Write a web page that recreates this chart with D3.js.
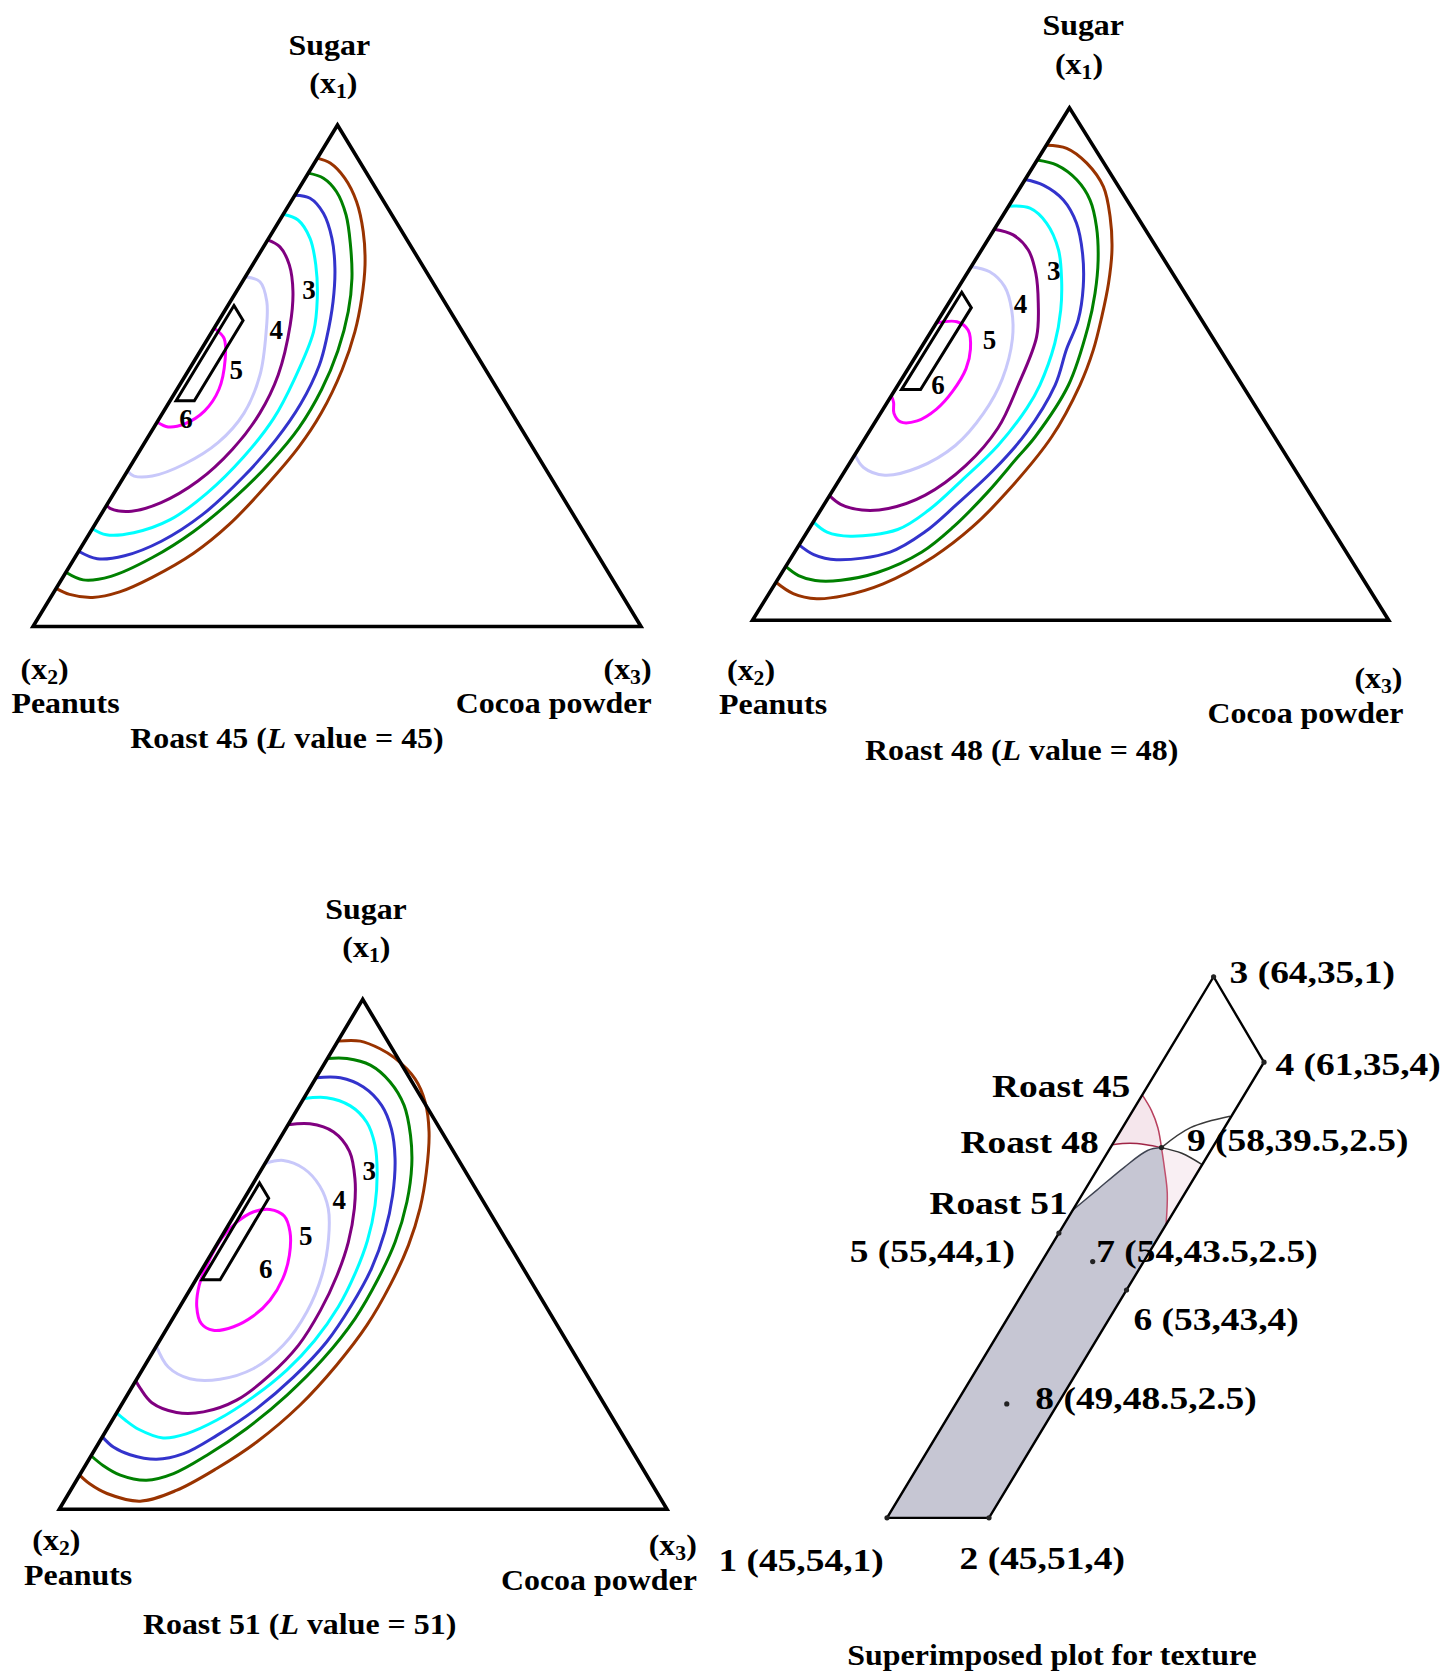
<!DOCTYPE html>
<html>
<head>
<meta charset="utf-8">
<script src="https://cdnjs.cloudflare.com/ajax/libs/d3/7.8.5/d3.min.js"></script>
<style>
  html, body { margin: 0; padding: 0; background: #ffffff; }
  svg text { font-family: "Liberation Serif", "Times New Roman", serif; font-weight: bold; fill: #000; }
</style>
</head>
<body>
<svg id="chart" width="1441" height="1674"></svg>
<script>
// ---------- data ----------
// Mixture components (percent). Contour points are [sugar, cocoa]; peanuts = 100 - sugar - cocoa.
const componentNames = ["Sugar", "Peanuts", "Cocoa powder"];
const componentSymbols = ["1", "2", "3"];
const roastLevels = [45, 48, 51];
const contourLabels = ["3", "4", "5", "6"];

// Texture contours, outermost to innermost
const roast45Contours = [
  [[93.4,0],[92.4,2.6],[89.4,6.5],[84.7,10.8],[78.7,14.9],[72.1,18.5],[65.4,21.3],[58.8,23.5],[51.2,25.2],[42.5,26.1],[35.8,25.8],[28.1,24.3],[20.4,22.1],[14.6,19.1],[9.8,14.7],[6.9,10.8],[5.8,6.9],[6.4,2.8],[7.6,0]],
  [[90.4,0],[89.4,3.0],[86.7,6.5],[82.05,10.4],[76.1,14.1],[69.4,17.7],[62.8,20.4],[55.0,22.6],[47.3,23.8],[39.6,23.9],[32.9,22.7],[25.7,20.3],[18.9,16.9],[13.7,12.7],[10.0,7.8],[9.3,3.6],[10.8,0]],
  [[86,0],[85.4,2.8],[82.4,6.5],[77.4,10.4],[71.4,13.9],[64.8,16.9],[57.5,19.5],[52.1,21.0],[44.4,21.8],[37.2,21.3],[30,19.7],[22.3,16.7],[17,12.6],[14.1,8.0],[13.5,3.8],[15,0]],
  [[82.2,0],[81.05,3.0],[77.4,6.8],[72.1,10.4],[65.4,14.0],[58.8,16.7],[49.2,18.3],[41.5,18.8],[33.8,17.7],[26.6,15.3],[21.3,11.9],[18.7,7.2],[18.3,2.9],[19.5,0]],
  [[77.1,0],[75.7,2.7],[72.1,6.05],[66.8,9.3],[60.1,12.2],[50.2,15.2],[42.5,16],[35.3,15.1],[29,12.6],[24.7,8.7],[23,4.7],[23.5,1.0],[24.2,0]],
  [[69.75,0],[68.75,2.9],[64.8,6.0],[58.8,8.9],[50.2,12.2],[42.5,13.4],[36.7,12.1],[32.4,8.7],[30,4.6],[30,1.6],[31,0]],
  [[59.5,0],[57.4,2.7],[53.1,5.0],[47.3,6.9],[43,6.7],[40.4,4.7],[39.8,2.3],[40.8,0]]
];
const roast48Contours = [
  [[92.7,0],[92.1,3.5],[89.2,8.1],[84.6,13.0],[78.7,17.0],[72.25,20.5],[65.75,23.2],[59.2,25.4],[52.7,27.3],[45.9,28.6],[35.8,29.2],[24.9,27.5],[18.2,25.5],[12.4,22.3],[7.1,17.0],[4.8,12.0],[4.2,8.0],[5.2,3.8],[7.4,0]],
  [[89.8,0],[88.8,3.6],[85.9,8.2],[82,12.2],[76.8,15.8],[70.3,19.3],[63.8,22.05],[57.3,24.2],[45.9,26.8],[35.8,26.6],[31.7,25.8],[24.9,24.5],[18.2,22.5],[13.3,20.0],[9.3,15.0],[7.8,10.0],[7.75,6.0],[8.7,2.9],[10.5,0]],
  [[86,0],[84.9,3.4],[82,8.0],[77.5,12.3],[71.6,16.2],[65.1,19.55],[58.6,22.0],[52.9,23],[45.9,24.7],[36.5,24.8],[29.3,23.3],[22.5,20.8],[17.2,18.5],[13.3,15.0],[11.8,7.3],[12.8,3.25],[14.7,0]],
  [[80.8,0],[80.4,3.55],[77.5,7.6],[72.25,12.1],[66.4,15.5],[60.5,18.3],[54,20.6],[45.9,22.3],[41.4,22.5],[34.1,21.6],[27.3,19.3],[21.5,17.0],[17.7,14.0],[16.4,7.2],[17.2,3.15],[19.2,0]],
  [[76.3,0],[75.2,3.5],[72.25,7.35],[67.7,10.8],[61.85,14.1],[55.3,17.1],[45.9,18.9],[37.5,19.9],[30.2,18.5],[24.4,15.0],[21.8,10.5],[21.5,6.5],[22.6,2.6],[24.3,0]],
  [[69,0],[68,3.4],[65.1,7.2],[60.5,10.6],[54.9,13.5],[47.1,15.8],[40.4,16.2],[34.1,14.9],[29.8,11.2],[28.3,6.7],[29.8,2.6],[32.3,0]],
  [[58,0],[58.25,3.1],[56.6,5.7],[52.9,7.9],[49.1,9.1],[44.7,9.2],[41.2,8.4],[38.9,6.5],[38.7,4.0],[40.4,2.1],[42.5,1.0],[43.8,0]]
];
const roast51Contours = [
  [[91.8,0],[91.8,3.7],[90.3,7.7],[88.5,11.0],[84.4,16.4],[79.9,20.3],[74.0,23.9],[66.1,27.4],[59.0,29.9],[51.8,31.6],[43.9,32.5],[36.1,32.6],[28.2,31.5],[20.4,29.4],[13.2,25.9],[8.0,21.9],[3.7,17.4],[1.6,12.5],[3.1,6.3],[5.0,2.5],[6.7,0]],
  [[88.4,0],[88.4,3.2],[87.1,7.7],[83.8,12.6],[79.2,17.2],[73.3,21.2],[67.5,24.3],[60.3,27.1],[52.4,29.1],[45.2,29.9],[37.4,30.0],[29.5,28.7],[22.4,26.3],[15.8,22.9],[10.6,19.0],[7.0,15.3],[5.7,11.5],[6.7,6.7],[8.6,2.9],[10.5,0]],
  [[84.6,0],[84.6,4.0],[82.8,8.7],[79.2,13.5],[74.6,17.4],[68.8,20.9],[61.6,24.1],[54.4,26.4],[47.2,27.8],[40.0,28.1],[32.8,27.6],[25.9,25.6],[19.7,22.6],[14.5,18.7],[10.9,15.0],[9.8,11.1],[10.7,6.3],[12.2,2.8],[14.2,0]],
  [[80.5,0],[80.7,3.7],[79.1,8.4],[75.9,12.7],[71.4,16.3],[66.1,19.3],[59.6,22.2],[52.7,24.4],[46.2,25.6],[39.7,26.1],[33.1,25.5],[27.3,23.8],[22.0,20.9],[17.5,17.2],[14.8,13.5],[14.0,10.1],[15.7,5.2],[17.5,2.1],[18.9,0]],
  [[75.4,0],[75.6,3.5],[74.0,8.2],[70.2,12.7],[64.8,16.3],[59.0,19.1],[52.4,21.4],[45.9,22.8],[39.0,23.5],[32.2,23.3],[26.3,21.5],[21.4,18.5],[19.1,14.2],[19.0,9.8],[20.9,4.8],[23.7,1.5],[25.2,0]],
  [[67.8,0],[68.4,2.7],[66.8,6.9],[63.4,11.2],[59.0,14.8],[53.1,17.8],[45.9,20.3],[38.7,21.4],[32.2,20.8],[27.6,18.2],[25.5,13.7],[25.6,8.7],[27.9,4.0],[32,0]],
  [[56.3,1.1],[58.3,2.8],[58.8,5.3],[57.5,8.3],[54.4,10.8],[49.8,13.0],[45.2,14.2],[41.0,14.2],[37.9,13.0],[35.8,10.8],[35.1,7.8],[36.4,5.2],[39.7,2.8],[43.9,1.1],[47.8,0.4],[53.1,0.2]]
];

// Where the level numbers sit on each plot, [sugar, cocoa]
const roast45LabelPoints = [[67.1,11.8],[59.3,10.3],[51.3,7.75],[41.5,4.4]];
const roast48LabelPoints = [[68.15,13.4],[61.85,11.3],[54.7,10.0],[45.9,6.3]];
const roast51LabelPoints = [[66.5,17.8],[60.8,15.7],[53.6,13.8],[47.2,10.4]];

// Design points (percent sugar, peanuts, cocoa)
const pointIds     = ["1","2","3","4","5","6","7","8","9"];
const pointSugar   = [45, 45, 64, 61, 55, 53, 54, 49, 58];
const pointPeanuts = [54, 51, 35, 35, 44, 43, 43.5, 48.5, 39.5];
const pointCocoa   = [1, 4, 1, 4, 1, 4, 2.5, 2.5, 2.5];
const regionOrder  = ["3","4","2","1"];

// Boundaries of the acceptable-texture region for each roast, [sugar, cocoa]
const roast45Boundary = [[59.85,1.0],[59.3,1.55],[58.7,2.04],[58,2.5],[57.3,2.94],[56.4,3.48],[55.3,4.0]];
const roast48Boundary = [[58.1,1.0],[58.15,1.5],[58.1,2.0],[58,2.5],[57.8,3.2],[57.4,4.0]];
const roast51Boundary = [[55.8,1.0],[56.5,1.35],[57.3,1.75],[57.9,2.14],[58,2.5],[58.7,3.0],[59.1,3.96]];

// ---------- styles & layout ----------
const contourColors = ["#993300", "#008000", "#3333cc", "#00ffff", "#800080", "#c8c8fa", "#ff00ff"];

const frames = {
  p45: { A: [337.5, 125],   B: [33, 626.5],    C: [641, 626.5] },
  p48: { A: [1069.5, 107.8], B: [752.5, 620.2], C: [1388.7, 620.2] },
  p51: { A: [362.7, 999.3], B: [59.3, 1509.3], C: [667, 1509.3] },
  overlay: { A: [1798.4, -48.5], B: [79.5, 2799.4], C: [3479.5, 2799.4] }
};

const textLayout = {
  p45: { sugar: [329.3, 55], x1: [333.4, 92.7], x2: [20.6, 678.6], peanuts: [11.4, 712.5],
         x3: [651.6, 678.6], cocoa: [651.6, 712.5], caption: [287, 747.8] },
  p48: { sugar: [1083.2, 35], x1: [1079, 74.2], x2: [727, 679.6], peanuts: [719, 713.8],
         x3: [1402.5, 688], cocoa: [1403.4, 722.7], caption: [1021.7, 760] },
  p51: { sugar: [366, 919.4], x1: [366.4, 956.8], x2: [32.3, 1549.9], peanuts: [24.1, 1585.3],
         x3: [696.8, 1555], cocoa: [696.8, 1590.3], caption: [299.6, 1634.3] }
};

const FS = 29.3, SX = 1.09;       // panel text size and horizontal stretch
const OFS = 32, OSX = 1.17;       // text on the superimposed plot
const LEVEL_FS = 27;              // contour level numbers

const svg = d3.select("#chart");

// Barycentric projection built from linear scales
function ternaryProjection(f) {
  const ySugar = d3.scaleLinear().domain([0, 100]).range([f.B[1], f.A[1]]);
  const xSugar = d3.scaleLinear().domain([0, 100]).range([0, f.A[0] - f.B[0]]);
  const xCocoa = d3.scaleLinear().domain([0, 100]).range([0, f.C[0] - f.B[0]]);
  return (s, c) => [f.B[0] + xSugar(s) + xCocoa(c), ySugar(s)];
}

function addText(g, x, y, anchor, size, sx) {
  return g.append("text")
    .attr("transform", `translate(${x},${y}) scale(${sx},1)`)
    .attr("text-anchor", anchor)
    .style("font-size", size + "px");
}

function symbolLabel(g, pos, idx, anchor) {
  const t = addText(g, pos[0], pos[1], anchor, FS, SX);
  t.append("tspan").text("(x");
  t.append("tspan").text(componentSymbols[idx]).style("font-size", (FS * 0.68) + "px").attr("dy", 5);
  t.append("tspan").text(")").attr("dy", -5);
}

function drawPanel(key, contours, labelPts, level) {
  const proj = ternaryProjection(frames[key]);
  const lay = textLayout[key];
  const g = svg.append("g").attr("class", "panel-" + key);
  const line = d3.line().x(d => proj(d[0], d[1])[0]).y(d => proj(d[0], d[1])[1]);

  contours.forEach((pts, i) => {
    const closed = pts[0][1] > 0 && pts[pts.length - 1][1] > 0;
    line.curve(closed ? d3.curveCatmullRomClosed.alpha(0.5) : d3.curveCatmullRom.alpha(0.5));
    g.append("path")
      .attr("d", line(pts))
      .attr("fill", "none")
      .attr("stroke", contourColors[i])
      .attr("stroke-width", 3)
      .attr("stroke-linejoin", "round");
  });

  // simplex outline
  line.curve(d3.curveLinearClosed);
  g.append("path")
    .attr("d", line([[100, 0], [0, 0], [0, 100]]))
    .attr("fill", "none").attr("stroke", "#000").attr("stroke-width", 3.6).attr("stroke-linejoin", "miter");

  // constrained region
  const region = regionOrder.map(id => {
    const k = pointIds.indexOf(id);
    return [pointSugar[k], pointCocoa[k]];
  });
  g.append("path")
    .attr("d", line(region))
    .attr("fill", "none").attr("stroke", "#000").attr("stroke-width", 3).attr("stroke-linejoin", "miter");

  // contour level numbers
  labelPts.forEach((p, i) => {
    const xy = proj(p[0], p[1]);
    g.append("text")
      .attr("x", xy[0]).attr("y", xy[1])
      .attr("dy", "0.35em")
      .attr("text-anchor", "middle")
      .style("font-size", LEVEL_FS + "px")
      .text(contourLabels[i]);
  });

  // vertex names
  addText(g, lay.sugar[0], lay.sugar[1], "middle", FS, SX).text(componentNames[0]);
  symbolLabel(g, lay.x1, 0, "middle");
  symbolLabel(g, lay.x2, 1, "start");
  addText(g, lay.peanuts[0], lay.peanuts[1], "start", FS, SX).text(componentNames[1]);
  symbolLabel(g, lay.x3, 2, "end");
  addText(g, lay.cocoa[0], lay.cocoa[1], "end", FS, SX).text(componentNames[2]);

  const cap = addText(g, lay.caption[0], lay.caption[1], "middle", FS, SX);
  cap.append("tspan").text(`Roast ${level} (`);
  cap.append("tspan").text("L").style("font-style", "italic");
  cap.append("tspan").text(` value = ${level})`);
}

drawPanel("p45", roast45Contours, roast45LabelPoints, roastLevels[0]);
drawPanel("p48", roast48Contours, roast48LabelPoints, roastLevels[1]);
drawPanel("p51", roast51Contours, roast51LabelPoints, roastLevels[2]);

// ---------- superimposed plot ----------
(function drawOverlay() {
  const proj = ternaryProjection(frames.overlay);
  const g = svg.append("g").attr("class", "overlay");
  const smooth = d3.line().x(d => proj(d[0], d[1])[0]).y(d => proj(d[0], d[1])[1]).curve(d3.curveCatmullRom.alpha(0.5));
  const straight = d3.line().x(d => proj(d[0], d[1])[0]).y(d => proj(d[0], d[1])[1]);
  const asLine = s => s.replace(/^M/, "L");
  const pt = id => { const k = pointIds.indexOf(id); return [pointSugar[k], pointCocoa[k]]; };

  const i45 = 3, i48 = 3, i51 = 4; // index of the common point in each boundary
  const b45Upper = roast45Boundary.slice(0, i45 + 1);
  const b45Lower = roast45Boundary.slice(i45);
  const b48Left = roast48Boundary.slice(0, i48 + 1);
  const b48Right = roast48Boundary.slice(i48);
  const b51Left = roast51Boundary.slice(0, i51 + 1);
  const b51Right = roast51Boundary.slice(i51);

  // faint bands between the roast boundaries
  g.append("path")
    .attr("d", smooth(b45Upper) + asLine(smooth(b48Left.slice().reverse())) + "Z")
    .attr("fill", "#f5e6ec");
  g.append("path")
    .attr("d", smooth(b45Lower) + asLine(straight([b45Lower[b45Lower.length - 1], b48Right[b48Right.length - 1]])) +
               asLine(smooth(b48Right.slice().reverse())) + "Z")
    .attr("fill", "#f9eff3");

  // region acceptable for all three roasts
  const p1 = pt("1"), p2 = pt("2");
  const shaded = straight([p1, p2, b45Lower[b45Lower.length - 1]]) +
    asLine(smooth(b45Lower.slice().reverse())) +
    asLine(smooth(b51Left.slice().reverse())) + "Z";
  g.append("path").attr("d", shaded).attr("fill", "#c6c6d3");

  // boundary curves
  const curveStyle = [
    [b45Upper, "#b8405e"], [b45Lower, "#c0506e"],
    [b48Left, "#a02546"], [b48Right, "#333333"],
    [b51Left, "#3f4452"], [b51Right, "#3a3a3a"]
  ];
  curveStyle.forEach(([pts, col]) => {
    g.append("path").attr("d", smooth(pts)).attr("fill", "none")
      .attr("stroke", col).attr("stroke-width", 1.5);
  });

  // constrained region outline
  const region = regionOrder.map(pt);
  g.append("path")
    .attr("d", straight.curve(d3.curveLinearClosed)(region))
    .attr("fill", "none").attr("stroke", "#000").attr("stroke-width", 2.4).attr("stroke-linejoin", "miter");
  straight.curve(d3.curveLinear);

  // design points
  pointIds.forEach((id, k) => {
    const xy = proj(pointSugar[k], pointCocoa[k]);
    g.append("circle").attr("cx", xy[0]).attr("cy", xy[1]).attr("r", 2.6).attr("fill", "#222");
  });

  // point labels: offsets from each point and text anchor
  const labelPlacement = {
    "1": [-168.6, 53.2, "start"], "2": [-29.4, 51.2, "start"], "3": [16, 6, "start"],
    "4": [11.5, 13, "start"], "5": [-209.2, 28.6, "start"], "6": [7, 40, "start"],
    "7": [3.5, 0.5, "start"], "8": [28.6, 5, "start"], "9": [25.5, 3, "start"]
  };
  pointIds.forEach((id, k) => {
    const xy = proj(pointSugar[k], pointCocoa[k]);
    const [dx, dy, anchor] = labelPlacement[id];
    addText(g, xy[0] + dx, xy[1] + dy, anchor, OFS, OSX)
      .text(`${id} (${pointSugar[k]},${pointPeanuts[k]},${pointCocoa[k]})`);
  });

  // roast names next to the start of each boundary
  const roastBoundaries = [roast45Boundary, roast48Boundary, roast51Boundary];
  const roastNameOffsets = [[-12, 2.4], [-13.5, 8], [-5, 3.3]];
  roastBoundaries.forEach((b, i) => {
    const xy = proj(b[0][0], b[0][1]);
    addText(g, xy[0] + roastNameOffsets[i][0], xy[1] + roastNameOffsets[i][1], "end", OFS, OSX)
      .text(`Roast ${roastLevels[i]}`);
  });

  addText(g, 1052, 1665, "middle", FS, SX).text("Superimposed plot for texture");
})();
</script>
</body>
</html>
